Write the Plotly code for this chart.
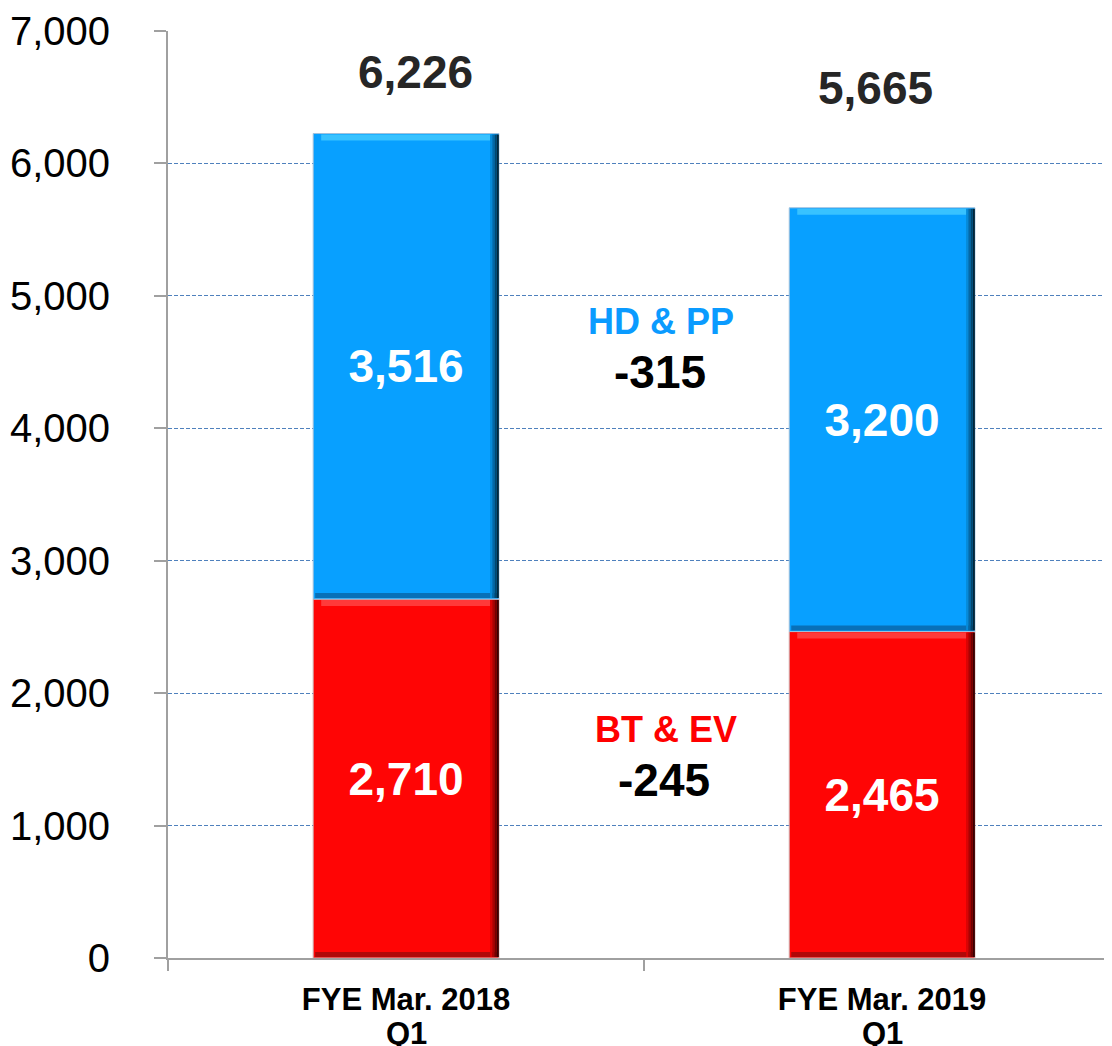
import plotly.graph_objects as go

categories = ["FYE Mar. 2018", "FYE Mar. 2019"]
category_line2 = ["Q1", "Q1"]
bt_ev = [2710, 2465]
hd_pp = [3516, 3200]
totals = [6226, 5665]
total_labels = ["6,226", "5,665"]
change_labels = {"HD & PP": "-315", "BT & EV": "-245"}

FONT = "Arial, Liberation Sans, sans-serif"
BLUE = "#08A0FF"
RED = "#FF0505"

BAR_W = 0.39
PX_Y = 7000 / 927.0      # data units per pixel (y)
PX_X = 1.983 / 944.0     # category units per pixel (x)

fig = go.Figure()


def segment(base, vals, color, name, edge_cols, top_col, bot_col, line_col):
    tops = [b + v for b, v in zip(base, vals)]
    fig.add_trace(go.Bar(
        x=categories, y=vals, base=base, name=name,
        marker=dict(color=color, line=dict(color=line_col, width=1)),
        width=BAR_W, offset=-BAR_W / 2,
        text=[f"{v:,}" for v in vals], textposition="inside", insidetextanchor="middle",
        textangle=0, constraintext="none", hoverinfo="skip",
        textfont=dict(family=FONT, size=46, color="white", weight="bold"),
    ))
    # top highlight band
    h_top = 6 * PX_Y
    fig.add_trace(go.Bar(
        x=categories, y=[h_top] * len(vals), base=[t - h_top - PX_Y for t in tops],
        marker=dict(color=top_col, line=dict(width=0)),
        width=BAR_W - 16 * PX_X, offset=-BAR_W / 2 + 8 * PX_X, hoverinfo="skip",
    ))
    # bottom dark band
    h_bot = 5 * PX_Y
    fig.add_trace(go.Bar(
        x=categories, y=[h_bot] * len(vals), base=[b + PX_Y for b in base],
        marker=dict(color=bot_col, line=dict(width=0)),
        width=BAR_W - 4 * PX_X, offset=-BAR_W / 2 + 2 * PX_X, hoverinfo="skip",
    ))
    # right dark edge gradient
    n = len(edge_cols)
    sw = 2.2 * PX_X
    for k, c in enumerate(edge_cols):
        fig.add_trace(go.Bar(
            x=categories, y=[v - 2 * PX_Y for v in vals], base=[b + PX_Y for b in base],
            marker=dict(color=c, line=dict(width=0)),
            width=sw, offset=BAR_W / 2 - (n - k) * sw, hoverinfo="skip",
        ))


segment([0, 0], bt_ev, RED, "BT & EV",
        ["#D80404", "#A80303", "#700202", "#3A0101"], "#FF3A3A", "#B00808", "#D0A8A8")
segment(bt_ev, hd_pp, BLUE, "HD & PP",
        ["#078AD8", "#0568A6", "#03476F", "#02263A"], "#38C2FF", "#0870B8", "#A0C0DC")

# total labels above bars
total_pos = [(0.02, 6694), (-0.013, 6570)]
for i, (lab, (dx, yy)) in enumerate(zip(total_labels, total_pos)):
    fig.add_annotation(x=i + dx, y=yy, text=lab, showarrow=False,
                       font=dict(family=FONT, size=46, color="#262626", weight="bold"),
                       xref="x", yref="y", yanchor="middle")

# second line of the category labels
for cat, line2 in zip(categories, category_line2):
    fig.add_annotation(x=cat, y=0, xref="x", yref="paper", yshift=-75,
                       text=line2, showarrow=False, yanchor="middle",
                       font=dict(family=FONT, size=31, color="black", weight="bold"))

# change annotations between bars
fig.add_annotation(x=0.536, y=4810, text="HD & PP", showarrow=False,
                   font=dict(family=FONT, size=36, color="#0A9BFF", weight="bold"))
fig.add_annotation(x=0.534, y=4425, text=change_labels["HD & PP"], showarrow=False,
                   font=dict(family=FONT, size=46, color="black", weight="bold"))
fig.add_annotation(x=0.546, y=1729, text="BT & EV", showarrow=False,
                   font=dict(family=FONT, size=36, color="#FF0000", weight="bold"))
fig.add_annotation(x=0.541, y=1344, text=change_labels["BT & EV"], showarrow=False,
                   font=dict(family=FONT, size=46, color="black", weight="bold"))

# page body has an 8px default margin; size the figure to fit the window
fig.update_layout(
    barmode="overlay",
    width=1104, height=1038,
    margin=dict(l=160, r=0, t=23, b=88, pad=0),
    paper_bgcolor="white", plot_bgcolor="white",
    showlegend=False,
    font=dict(family=FONT, color="black"),
)
fig.update_xaxes(
    type="category", range=[-0.5, 1.483], automargin=False,
    showline=True, linecolor="#A0A0A0", linewidth=2,
    ticks="outside", tickson="boundaries", ticklen=11, tickcolor="#A0A0A0", tickwidth=2,
    ticklabelstandoff=13,
    tickfont=dict(family=FONT, size=31, color="black", weight="bold"),
    showgrid=False, zeroline=False,
)
fig.update_yaxes(
    range=[0, 7000], dtick=1000, tickformat=",", automargin=False,
    showline=True, linecolor="#A0A0A0", linewidth=2,
    ticks="outside", ticklen=12, tickcolor="#A0A0A0", tickwidth=2,
    ticklabelstandoff=36,
    tickfont=dict(family=FONT, size=40, color="black"),
    showgrid=True, gridcolor="#4F81BD", gridwidth=1, griddash="4px,2px",
    zeroline=False,
)

fig.write_html("out.html")
